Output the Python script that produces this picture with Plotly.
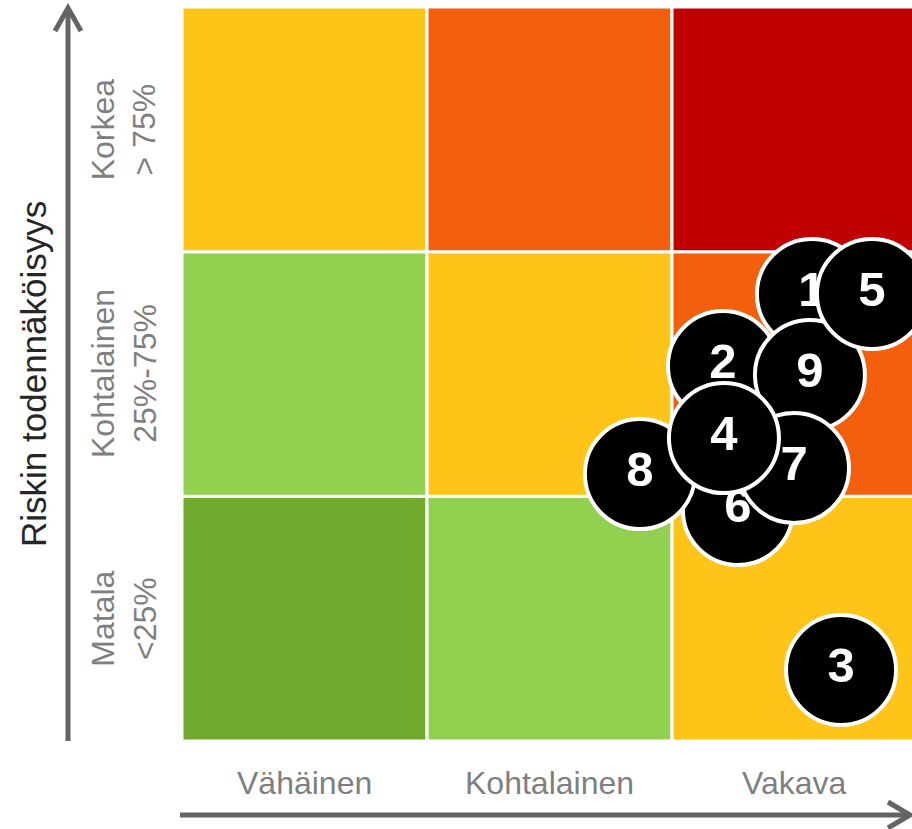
import plotly.graph_objects as go

# ---- data ----
impact_labels = ["Vähäinen", "Kohtalainen", "Vakava"]
likelihood_labels = ["Matala<br><25%", "Kohtalainen<br>25%-75%", "Korkea<br>> 75%"]
y_title = "Riskin todennäköisyys"

risk_ids = ["1", "2", "9", "5", "3", "6", "8", "7", "4"]
risk_impact = [2.571, 2.208, 2.563, 2.816, 2.690, 2.269, 1.869, 2.498, 2.212]
risk_likelihood = [1.827, 1.533, 1.496, 1.827, 0.290, 0.944, 1.091, 1.116, 1.238]

# cell colours, rows from bottom (Matala) to top (Korkea)
GREEN, LGREEN, YELLOW, ORANGE, RED = "#70AB2E", "#92D050", "#FEC518", "#F45F0E", "#C00000"
cell_colors = [
    [GREEN, LGREEN, YELLOW],
    [LGREEN, YELLOW, ORANGE],
    [YELLOW, ORANGE, RED],
]

# ---- layout geometry (pixels) ----
W, H = 912, 829
ML, MR, MT, MB = 182, 0, 7, 88
PW, PH = W - ML - MR, H - MT - MB
CELL_PX = 245.0

def px_x(p):
    return (p - ML) / PW

def px_y(p):
    return (H - MB - p) / PH

LABEL_FONT = "Liberation Sans, Arial, sans-serif"
LABEL_COLOR = "#7F7F7F"
ARROW_COLOR = "#646464"

fig = go.Figure()

for xv, yv, t in zip(risk_impact, risk_likelihood, risk_ids):
    fig.add_trace(go.Scatter(
        x=[xv], y=[yv], text=[t], mode="markers+text",
        marker=dict(size=110, color="black", line=dict(color="white", width=4)),
        textposition="middle center",
        textfont=dict(family="Liberation Sans, Arial, sans-serif", size=49, color="white", weight="bold"),
        showlegend=False, hoverinfo="skip", cliponaxis=False,
    ))

shapes = []
for r, row in enumerate(cell_colors):
    for c, col in enumerate(row):
        shapes.append(dict(type="rect", xref="x", yref="y", x0=c, x1=c + 1, y0=r, y1=r + 1,
                           fillcolor=col, line=dict(color="white", width=3), layer="below"))

# arrows
shapes.append(dict(type="line", xref="paper", yref="paper",
                   x0=px_x(68), x1=px_x(68), y0=px_y(741), y1=px_y(9),
                   line=dict(color=ARROW_COLOR, width=5)))
shapes.append(dict(type="path", xref="paper", yref="paper",
                   path=f"M {px_x(55)},{px_y(31)} L {px_x(68)},{px_y(8)} L {px_x(81)},{px_y(31)}",
                   line=dict(color=ARROW_COLOR, width=5)))
shapes.append(dict(type="line", xref="paper", yref="paper",
                   x0=px_x(180), x1=px_x(908), y0=px_y(815), y1=px_y(815),
                   line=dict(color=ARROW_COLOR, width=5)))
shapes.append(dict(type="path", xref="paper", yref="paper",
                   path=f"M {px_x(888)},{px_y(802)} L {px_x(910)},{px_y(815)} L {px_x(888)},{px_y(828)}",
                   line=dict(color=ARROW_COLOR, width=5)))

annotations = []
for i, lab in enumerate(impact_labels):
    annotations.append(dict(x=i + 0.5, xref="x", y=px_y(783), yref="paper", text=lab,
                            showarrow=False, xanchor="center", yanchor="middle",
                            font=dict(family=LABEL_FONT, size=32, color=LABEL_COLOR)))
for i, lab in enumerate(likelihood_labels):
    annotations.append(dict(x=px_x(124), xref="paper", y=i + 0.5, yref="y", text=lab,
                            showarrow=False, xanchor="center", yanchor="middle", textangle=-90,
                            font=dict(family=LABEL_FONT, size=32, color=LABEL_COLOR)))
annotations.append(dict(x=px_x(33), xref="paper", y=1.5, yref="y", text=y_title,
                        showarrow=False, xanchor="center", yanchor="middle", textangle=-90,
                        font=dict(family=LABEL_FONT, size=35, color="#262626")))

fig.update_layout(
    width=W, height=H,
    margin=dict(l=ML, r=MR, t=MT, b=MB, pad=0),
    paper_bgcolor="white", plot_bgcolor="white",
    xaxis=dict(range=[0, PW / CELL_PX], visible=False, fixedrange=True),
    yaxis=dict(range=[0, 3], visible=False, fixedrange=True),
    shapes=shapes, annotations=annotations,
)

fig.write_html("out.html", config={"displayModeBar": False},
               post_script="document.body.style.margin='0px';document.body.style.overflow='hidden';")
